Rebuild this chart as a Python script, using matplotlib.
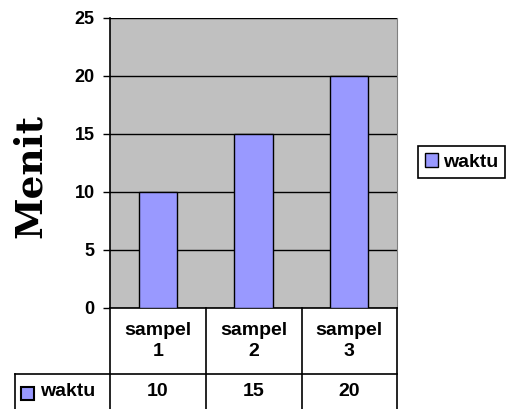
import matplotlib
matplotlib.use('Agg')
import matplotlib.pyplot as plt
from matplotlib.lines import Line2D
from matplotlib.patches import Rectangle
from matplotlib.transforms import blended_transform_factory

categories = ['sampel\n1', 'sampel\n2', 'sampel\n3']
waktu = [10, 15, 20]
series_name = 'waktu'
yticks = [0, 5, 10, 15, 20, 25]

W, H = 512, 409
bar_color = '#9999FF'
plt.rcParams['font.family'] = ['Liberation Sans', 'DejaVu Sans']


def fx(x):
    return x / W


def fy(y):
    return 1 - y / H


fig = plt.figure(figsize=(W / 100, H / 100), dpi=100)
fig.patch.set_facecolor('white')
ax = fig.add_axes([fx(110), fy(308), fx(397) - fx(110), fy(18) - fy(308)])
ax.set_facecolor('#C0C0C0')

x = list(range(len(categories)))
bars = ax.bar(x, waktu, width=0.4, color=bar_color, edgecolor='black',
              linewidth=1, zorder=3, label=series_name)
ax.set_xlim(-0.5, len(categories) - 0.5)
ax.set_ylim(0, 25)
ax.set_yticks(yticks)
ax.set_yticklabels([str(t) for t in yticks], fontsize=13, fontweight='bold')
ax.tick_params(axis='y', direction='out', length=5, width=1, pad=6)
ax.set_xticks([])
ax.yaxis.grid(True, color='black', linewidth=1, zorder=1)
ax.set_axisbelow(True)
ax.spines['top'].set_visible(False)
ax.spines['right'].set_color('#808080')
ax.spines['left'].set_linewidth(1.2)
ax.spines['bottom'].set_linewidth(1.2)

fig.text(fx(30), fy(176), 'Menit', rotation=90, ha='center', va='center',
         fontsize=27, fontweight='bold', family='DejaVu Serif')

# data table below the axis
lw = 1.2
for px in [110, 206, 302, 397]:
    fig.add_artist(Line2D([fx(px), fx(px)], [fy(308), 0], color='black', lw=lw))
fig.add_artist(Line2D([fx(15), fx(15)], [fy(374), 0], color='black', lw=lw))
fig.add_artist(Line2D([fx(15), fx(397)], [fy(374), fy(374)], color='black', lw=lw))

tr = blended_transform_factory(ax.transData, fig.transFigure)
for i, c in enumerate(categories):
    ax.text(i, fy(341), c, transform=tr, ha='center', va='center',
            fontsize=14, fontweight='bold', linespacing=1.3, clip_on=False)
    ax.text(i, fy(391), str(waktu[i]), transform=tr, ha='center', va='center',
            fontsize=14, fontweight='bold', clip_on=False)

fig.add_artist(Rectangle((fx(21), fy(400)), fx(13), fy(387) - fy(400),
                         transform=fig.transFigure, facecolor=bar_color,
                         edgecolor='black', lw=1.5))
fig.text(fx(40), fy(392), series_name, ha='left', va='center',
         fontsize=14, fontweight='bold')

leg = fig.legend(handles=[bars], labels=[series_name], loc='center left',
                 bbox_to_anchor=(fx(418), fy(162)), frameon=True,
                 fancybox=False, edgecolor='black', handlelength=0.7,
                 handleheight=0.7, handletextpad=0.25, borderpad=0.35,
                 borderaxespad=0, prop={'weight': 'bold', 'size': 14})
leg.get_frame().set_linewidth(1.2)
leg.get_frame().set_alpha(None)

fig.savefig('out.png', dpi=100)
